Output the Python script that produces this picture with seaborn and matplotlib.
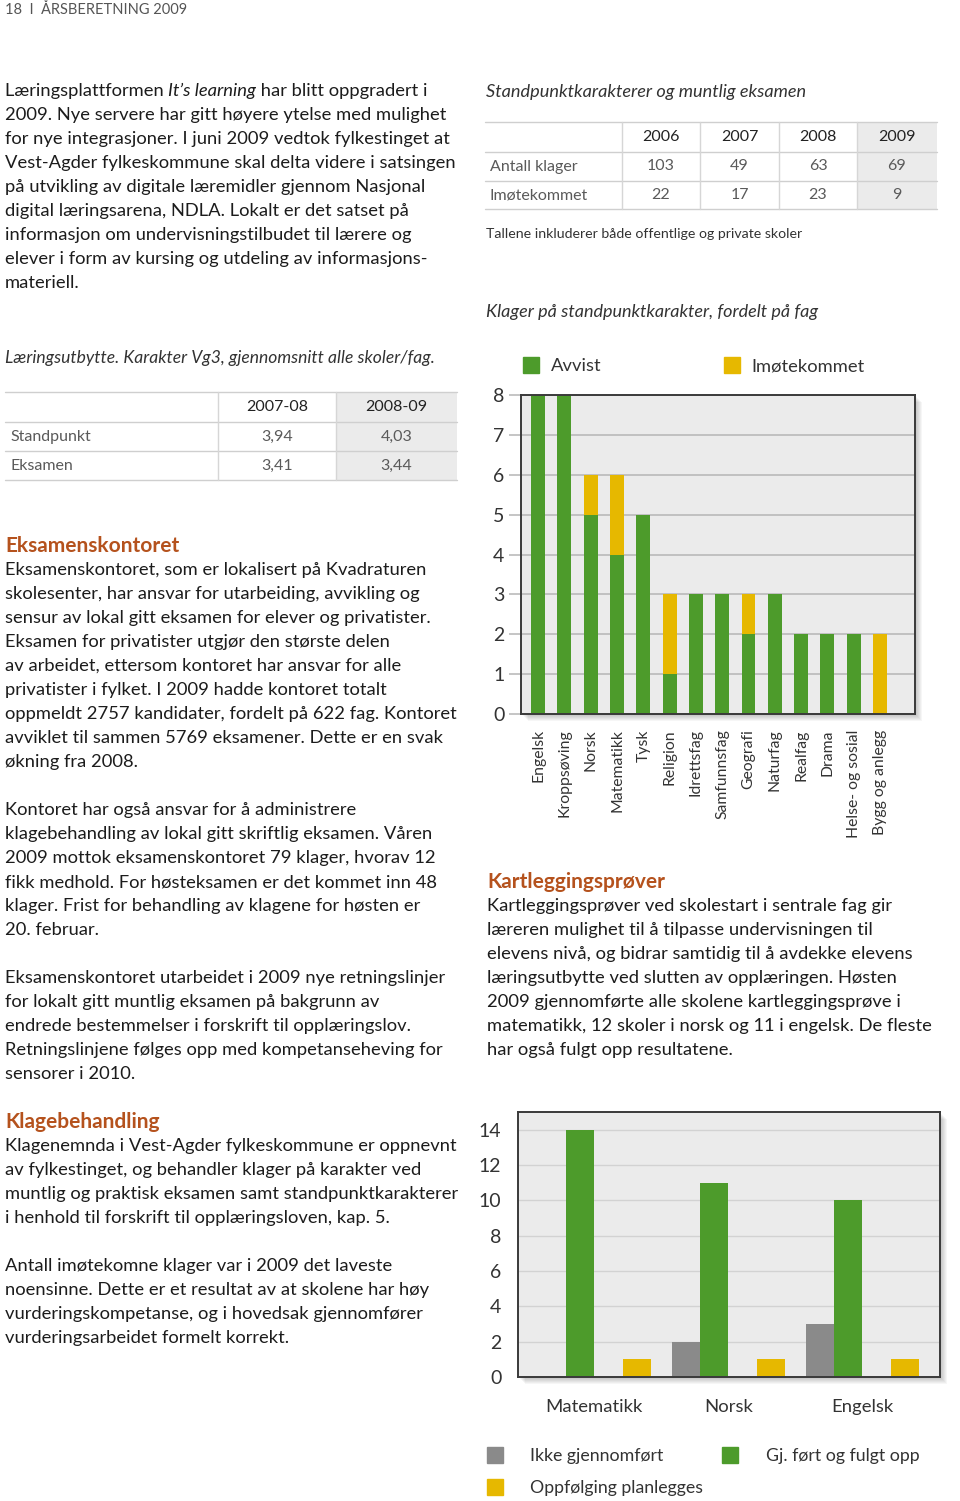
import numpy as np
import pandas as pd
import seaborn as sns
import matplotlib
matplotlib.use("Agg")
import matplotlib.pyplot as plt
from matplotlib.patches import Rectangle
from matplotlib.lines import Line2D

sns.set_theme(style="white")
plt.rcParams["font.family"] = ["Lato", "DejaVu Sans"]

# ---------------- data ----------------
t1_years = ["2006", "2007", "2008", "2009"]
t1_rows = ["Antall klager", "Imøtekommet"]
t1_klager = [103, 49, 63, 69]
t1_imotekommet = [22, 17, 23, 9]

t2_years = ["2007-08", "2008-09"]
t2_rows = ["Standpunkt", "Eksamen"]
t2_standpunkt = ["3,94", "4,03"]
t2_eksamen = ["3,41", "3,44"]

fag = ["Engelsk", "Kroppsøving", "Norsk", "Matematikk", "Tysk", "Religion",
       "Idrettsfag", "Samfunnsfag", "Geografi", "Naturfag", "Realfag", "Drama",
       "Helse- og sosial", "Bygg og anlegg"]
avvist = [8, 8, 5, 4, 5, 1, 3, 3, 2, 3, 2, 2, 2, 0]
imotekommet = [0, 0, 1, 2, 0, 2, 0, 0, 1, 0, 0, 0, 0, 2]

kart_fag = ["Matematikk", "Norsk", "Engelsk"]
ikke_gjennomfort = [0, 2, 3]
fulgt_opp = [14, 11, 10]
planlegges = [1, 1, 1]

GREEN = "#4d9b2b"
YELLOW = "#e6b800"
GREY = "#8a8a8a"
ORANGE = "#b5521d"
TXT = "#1c1c1c"

W, H = 960, 1501
fig = plt.figure(figsize=(9.6, 15.01), dpi=100)
fig.patch.set_facecolor("white")


def fx(px):
    return px / W


def fy(py):
    return 1 - py / H


BODY = 13.2
HEAD = 15


def put(x, y, s, size=BODY, color=TXT, style="normal", weight="normal", ha="left"):
    return fig.text(fx(x), fy(y), s, fontsize=size, color=color, style=style,
                    weight=weight, ha=ha, va="center")


def paragraph(x, y0, lines, step=24, **kw):
    for i, ln in enumerate(lines):
        put(x, y0 + i * step, ln, **kw)


renderer = fig.canvas.get_renderer()


def mixed(x, y, segments, size=BODY):
    cx = x
    for s, st in segments:
        t = put(cx, y, s, size=size, style=st)
        bb = t.get_window_extent(renderer=renderer)
        cx += bb.width


# ---------------- page texts ----------------
put(5, 10, "18  I  ÅRSBERETNING 2009", size=10.5, color="#555555")

mixed(5, 91, [("Læringsplattformen ", "normal"), ("It’s learning", "italic"),
              (" har blitt oppgradert i", "normal")])
paragraph(5, 115, [
    "2009. Nye servere har gitt høyere ytelse med mulighet",
    "for nye integrasjoner. I juni 2009 vedtok fylkestinget at",
    "Vest-Agder fylkeskommune skal delta videre i satsingen",
    "på utvikling av digitale læremidler gjennom Nasjonal",
    "digital læringsarena, NDLA. Lokalt er det satset på",
    "informasjon om undervisningstilbudet til lærere og",
    "elever i form av kursing og utdeling av informasjons-",
    "materiell.",
])

put(5, 358, "Læringsutbytte. Karakter Vg3, gjennomsnitt alle skoler/fag.",
    size=12.6, style="italic", color="#333333")

put(5, 546, "Eksamenskontoret", weight="bold", color=ORANGE, size=HEAD)
paragraph(5, 570, [
    "Eksamenskontoret, som er lokalisert på Kvadraturen",
    "skolesenter, har ansvar for utarbeiding, avvikling og",
    "sensur av lokal gitt eksamen for elever og privatister.",
    "Eksamen for privatister utgjør den største delen",
    "av arbeidet, ettersom kontoret har ansvar for alle",
    "privatister i fylket. I 2009 hadde kontoret totalt",
    "oppmeldt 2757 kandidater, fordelt på 622 fag. Kontoret",
    "avviklet til sammen 5769 eksamener. Dette er en svak",
    "økning fra 2008.",
])
paragraph(5, 810, [
    "Kontoret har også ansvar for å administrere",
    "klagebehandling av lokal gitt skriftlig eksamen. Våren",
    "2009 mottok eksamenskontoret 79 klager, hvorav 12",
    "fikk medhold. For høsteksamen er det kommet inn 48",
    "klager. Frist for behandling av klagene for høsten er",
    "20. februar.",
])
paragraph(5, 978, [
    "Eksamenskontoret utarbeidet i 2009 nye retningslinjer",
    "for lokalt gitt muntlig eksamen på bakgrunn av",
    "endrede bestemmelser i forskrift til opplæringslov.",
    "Retningslinjene følges opp med kompetanseheving for",
    "sensorer i 2010.",
])
put(5, 1122, "Klagebehandling", weight="bold", color=ORANGE, size=HEAD)
paragraph(5, 1146, [
    "Klagenemnda i Vest-Agder fylkeskommune er oppnevnt",
    "av fylkestinget, og behandler klager på karakter ved",
    "muntlig og praktisk eksamen samt standpunktkarakterer",
    "i henhold til forskrift til opplæringsloven, kap. 5.",
])
paragraph(5, 1266, [
    "Antall imøtekomne klager var i 2009 det laveste",
    "noensinne. Dette er et resultat av at skolene har høy",
    "vurderingskompetanse, og i hovedsak gjennomfører",
    "vurderingsarbeidet formelt korrekt.",
])

put(486, 92, "Standpunktkarakterer og muntlig eksamen", size=13.05,
    style="italic", color="#333333")
put(486, 234, "Tallene inkluderer både offentlige og private skoler", size=10.2,
    color="#333333")
put(486, 312, "Klager på standpunktkarakter, fordelt på fag", size=12.95,
    style="italic", color="#333333")

put(487, 882, "Kartleggingsprøver", weight="bold", color=ORANGE, size=HEAD)
paragraph(487, 906, [
    "Kartleggingsprøver ved skolestart i sentrale fag gir",
    "læreren mulighet til å tilpasse undervisningen til",
    "elevens nivå, og bidrar samtidig til å avdekke elevens",
    "læringsutbytte ved slutten av opplæringen. Høsten",
    "2009 gjennomførte alle skolene kartleggingsprøve i",
    "matematikk, 12 skoler i norsk og 11 i engelsk. De fleste",
    "har også fulgt opp resultatene.",
])


# ---------------- tables ----------------
TSIZE = 11.5


def hline(x0, x1, y, color="#cfcfcf", lw=1.0):
    fig.add_artist(Line2D([fx(x0), fx(x1)], [fy(y), fy(y)], color=color, lw=lw))


def vline(x, y0, y1, color="#d6d6d6", lw=1.0):
    fig.add_artist(Line2D([fx(x), fx(x)], [fy(y0), fy(y1)], color=color, lw=lw))


def shade(x0, x1, y0, y1, color="#ebebeb"):
    fig.add_artist(Rectangle((fx(x0), fy(y1)), fx(x1) - fx(x0), fy(y0) - fy(y1),
                             transform=fig.transFigure, facecolor=color,
                             edgecolor="none", zorder=0))


def draw_table(col_edges, row_edges, header, row_labels, cells):
    shade(col_edges[-2], col_edges[-1], row_edges[0], row_edges[-1])
    for y in row_edges:
        hline(col_edges[0], col_edges[-1], y)
    for x in col_edges[1:-1]:
        vline(x, row_edges[0], row_edges[-1])
    rc = [(row_edges[i] + row_edges[i + 1]) / 2 for i in range(len(row_edges) - 1)]
    cc = [(col_edges[i] + col_edges[i + 1]) / 2 for i in range(len(col_edges) - 1)]
    for j, h in enumerate(header):
        put(cc[j + 1], rc[0], h, size=TSIZE, color="#222222", ha="center")
    for i, lab in enumerate(row_labels):
        put(col_edges[0] + 5, rc[i + 1], lab, size=TSIZE, color="#5a5a5a")
        for j, v in enumerate(cells[i]):
            put(cc[j + 1], rc[i + 1], str(v), size=TSIZE, color="#5a5a5a", ha="center")


draw_table([485, 622, 700, 779, 857, 937], [122, 152, 181, 209],
           t1_years, t1_rows, [t1_klager, t1_imotekommet])
draw_table([5, 218, 336, 457], [392, 422, 451, 480],
           t2_years, t2_rows, [t2_standpunkt, t2_eksamen])


# ---------------- helper: axes with drop shadow ----------------
def shadow(l, t, r, b):
    for k in range(1, 8):
        fig.add_artist(Rectangle((fx(l + k), fy(b + k)), fx(r - l), fy(t) - fy(b),
                                 transform=fig.transFigure, facecolor="#000000",
                                 alpha=0.035, edgecolor="none", zorder=-2))


def make_axes(l, t, r, b):
    shadow(l, t, r, b)
    ax = fig.add_axes([fx(l), fy(b), fx(r) - fx(l), fy(t) - fy(b)])
    ax.set_facecolor("#ebebeb")
    for s in ax.spines.values():
        s.set_color("#3a3a3a")
        s.set_linewidth(1.4)
    ax.set_axisbelow(True)
    return ax


def square(color, size):
    return Line2D([], [], marker="s", ls="", markersize=size,
                  markerfacecolor=color, markeredgecolor=color)


# ---------------- chart 1: stacked bars ----------------
ax1 = make_axes(521, 395, 915, 714)
df1 = pd.DataFrame({"fag": fag, "avvist": avvist, "imotekommet": imotekommet})
df1["total"] = df1["avvist"] + df1["imotekommet"]
sns.barplot(data=df1, x="fag", y="total", order=fag, color=YELLOW, saturation=1,
            width=0.53, linewidth=0, ax=ax1)
sns.barplot(data=df1, x="fag", y="avvist", order=fag, color=GREEN, saturation=1,
            width=0.53, linewidth=0, ax=ax1)
ax1.set_xlim(-0.65, 14.33)
ax1.set_ylim(0, 8)
ax1.set_yticks(range(0, 9))
ax1.yaxis.grid(True, color="#b5b5b5", lw=1.1)
ax1.set_xlabel("")
ax1.set_ylabel("")
ax1.tick_params(axis="y", left=True, length=9, width=1.1, color="#b5b5b5",
                pad=3, labelsize=14, labelcolor="#333333")
ax1.tick_params(axis="x", bottom=False, pad=5, labelsize=11.3, labelcolor="#333333")
for lab in ax1.get_xticklabels():
    lab.set_rotation(90)

fig.legend(handles=[square(GREEN, 11), square(YELLOW, 11)],
           labels=["Avvist", "Imøtekommet"], ncol=2, loc="center left",
           bbox_to_anchor=(fx(523), fy(366)), frameon=False, fontsize=13.2,
           handlelength=0.85, handletextpad=0.65,
           columnspacing=6.7, borderpad=0, borderaxespad=0,
           labelcolor="#333333")

# ---------------- chart 2: grouped bars ----------------
ax2 = make_axes(518, 1112, 940, 1377)
series = ["Ikke gjennomført", "Gj. ført og fulgt opp", " ", "Oppfølging planlegges"]
rows = []
for i, f in enumerate(kart_fag):
    rows.append((f, series[0], ikke_gjennomfort[i]))
    rows.append((f, series[1], fulgt_opp[i]))
    rows.append((f, series[2], 0))
    rows.append((f, series[3], planlegges[i]))
df2 = pd.DataFrame(rows, columns=["fag", "serie", "verdi"])
pal = {series[0]: GREY, series[1]: GREEN, series[2]: "#ebebeb", series[3]: YELLOW}
sns.barplot(data=df2, x="fag", y="verdi", hue="serie", hue_order=series,
            order=kart_fag, palette=pal, saturation=1, width=0.845, linewidth=0,
            ax=ax2, legend=False)
ax2.set_xlim(-0.57, 2.58)
ax2.set_ylim(0, 15)
ax2.set_yticks(range(0, 15, 2))
ax2.yaxis.grid(True, color="#d2d2d2", lw=1.0)
ax2.set_xlabel("")
ax2.set_ylabel("")
ax2.tick_params(axis="y", left=False, pad=6, labelsize=14, labelcolor="#333333")
ax2.tick_params(axis="x", bottom=False, pad=10, labelsize=13.3, labelcolor="#333333")

fig.legend(handles=[square(GREY, 12), square(YELLOW, 12), square(GREEN, 12)],
           labels=["Ikke gjennomført", "Oppfølging planlegges", "Gj. ført og fulgt opp"],
           ncol=2, loc="upper left", bbox_to_anchor=(fx(486), fy(1448)),
           frameon=False, fontsize=12.8, handlelength=1.0,
           handletextpad=1.5, columnspacing=1.0, labelspacing=0.9, borderpad=0,
           borderaxespad=0, labelcolor="#333333")

fig.savefig("out.png", dpi=100, facecolor="white")
